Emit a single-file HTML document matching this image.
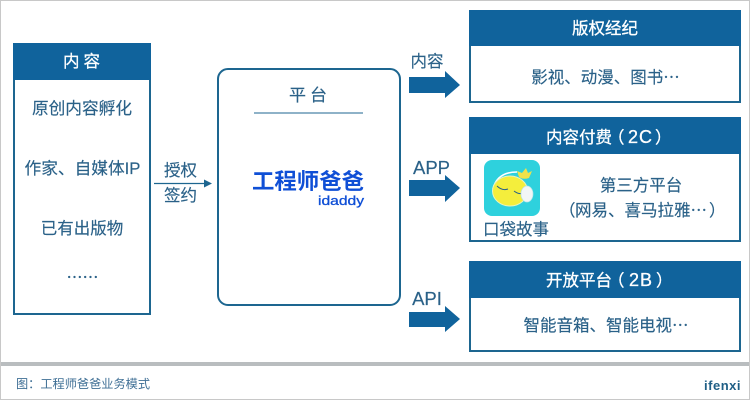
<!DOCTYPE html>
<html><head><meta charset="utf-8">
<style>
html,body{margin:0;padding:0;background:#fff}
svg{display:block}
text{font-family:"Liberation Sans","Noto Sans CJK SC",sans-serif}
.d{fill:#2a6188;stroke:#2a6188;stroke-width:.15}
.w{fill:#fff;stroke:#fff;stroke-width:.3}
.c{font-family:"Noto Sans CJK SC",sans-serif}
</style></head><body>
<svg width="750" height="400" viewBox="0 0 750 400" xmlns="http://www.w3.org/2000/svg">
<rect width="750" height="400" fill="#fff"/>
<path d="M0.5 400V0.5H749.5V400M0 399.5H750" fill="none" stroke="#c8c8c8"/>
<rect x="1" y="362" width="748" height="4" fill="#b9bdbf"/>

<!-- left -->
<rect x="14" y="44" width="136" height="270" fill="#fff" stroke="#1d6690" stroke-width="2"/>
<rect x="13" y="43" width="138" height="37" fill="#10639c"/>
<text x="63" y="67" font-size="16.500" class="w" letter-spacing="4">内容</text>
<text x="82" y="114" font-size="16.700" class="d" text-anchor="middle">原创内容孵化</text>
<text x="82.500" y="174" font-size="16.700" class="d" text-anchor="middle">作家、自媒体IP</text>
<text x="82" y="234" font-size="16.500" class="d" text-anchor="middle">已有出版物</text>
<text x="82.500" y="283" font-size="16" class="d c" text-anchor="middle">……</text>

<text x="180.500" y="176" font-size="16.500" class="d" text-anchor="middle">授权</text>
<text x="180.500" y="201" font-size="16.500" class="d" text-anchor="middle">签约</text>
<path d="M154 183.5H206" stroke="#1d6690" stroke-width="1.2"/>
<path d="M204 179.5L212 183.5L204 187.5Z" fill="#1d6690"/>

<!-- platform -->
<rect x="218" y="69" width="182" height="236" rx="10" fill="#fff" stroke="#1d6690" stroke-width="2"/>
<text x="289" y="101" font-size="17" class="d" letter-spacing="4">平台</text>
<path d="M254 113H363" stroke="#1d6690" stroke-width="1"/>
<text x="308" y="189" font-size="22" font-weight="700" fill="#0f4fd6" text-anchor="middle" textLength="112" lengthAdjust="spacingAndGlyphs">工程师爸爸</text>
<text x="364" y="205" font-size="13" fill="#0f4fd6" stroke="#0f4fd6" stroke-width=".3" text-anchor="end" textLength="46" lengthAdjust="spacingAndGlyphs">idaddy</text>

<!-- arrows -->
<path d="M409 77H445V71L460 85L445 98V93H409Z" fill="#10639c"/>
<path d="M409 180H445V175L460 188L445 202V196H409Z" fill="#10639c"/>
<path d="M409 312H445V306L460 319L445 332V327H409Z" fill="#10639c"/>
<text x="427" y="67" font-size="16.500" class="d" text-anchor="middle">内容</text>
<text x="431.500" y="174" font-size="18.500" class="d" text-anchor="middle">APP</text>
<text x="427" y="305" font-size="18.500" class="d" text-anchor="middle">API</text>

<!-- right 1 -->
<rect x="470" y="11" width="270" height="91" fill="#fff" stroke="#1d6690" stroke-width="2"/>
<rect x="469" y="10" width="272" height="36" fill="#10639c"/>
<text x="605" y="34" font-size="16.500" class="w" text-anchor="middle">版权经纪</text>
<text x="605.500" y="83" font-size="16.500" class="d c" text-anchor="middle">影视、动漫、图书…</text>

<!-- right 2 -->
<rect x="470" y="118" width="270" height="123" fill="#fff" stroke="#1d6690" stroke-width="2"/>
<rect x="469" y="117" width="272" height="37" fill="#10639c"/>
<text x="546" y="143" font-size="16.500" class="w">内容付费</text>
<text x="608" y="143" font-size="16.500" class="w">（</text>
<text x="628" y="143" font-size="18" class="w" letter-spacing="1">2C</text>
<text x="655" y="143" font-size="16.500" class="w">）</text>
<rect x="484" y="160" width="56" height="56" rx="8" fill="#2ed1dd"/>
<path d="M493 189Q497 172 517 172" fill="none" stroke="#fff" stroke-width="1.500"/>
<ellipse cx="510" cy="191" rx="17.500" ry="15" fill="#f4ee3c" stroke="#e8f4c0" stroke-width="1"/>
<path d="M497 186Q502 191 508 189M514 191Q519 195 524 193" fill="none" stroke="#2a6188" stroke-width="1"/>
<ellipse cx="527" cy="194" rx="6" ry="8" fill="#f2f6f6" stroke="#b8e4e8" stroke-width=".7"/>
<path d="M517 171L522 173L526 168L528 173L532 171L529 178Q523 180 519 177Z" fill="#f0e24a"/>
<text x="516" y="235" font-size="16.500" class="d" text-anchor="middle">口袋故事</text>
<text x="641" y="191" font-size="16.500" class="d" text-anchor="middle">第三方平台</text>
<text x="559" y="216" font-size="16.500" class="d c">（</text>
<text x="575" y="216" font-size="16.500" class="d c">网易、喜马拉雅…</text>
<text x="709" y="216" font-size="16.500" class="d c">）</text>

<!-- right 3 -->
<rect x="470" y="262" width="270" height="89" fill="#fff" stroke="#1d6690" stroke-width="2"/>
<rect x="469" y="261" width="272" height="37" fill="#10639c"/>
<text x="546" y="286" font-size="16.500" class="w">开放平台</text>
<text x="608" y="286" font-size="16.500" class="w">（</text>
<text x="629" y="286" font-size="18" class="w" letter-spacing="1">2B</text>
<text x="656" y="286" font-size="16.500" class="w">）</text>
<text x="606" y="331" font-size="16.500" class="d c" text-anchor="middle">智能音箱、智能电视…</text>

<!-- footer -->
<text x="16" y="388" font-size="12.200" fill="#3f6f95">图：工程师爸爸业务模式</text>
<text x="741" y="390" font-size="13" font-weight="700" fill="#1f5f86" text-anchor="end" letter-spacing=".5">ifenxi</text>
</svg>
</body></html>
